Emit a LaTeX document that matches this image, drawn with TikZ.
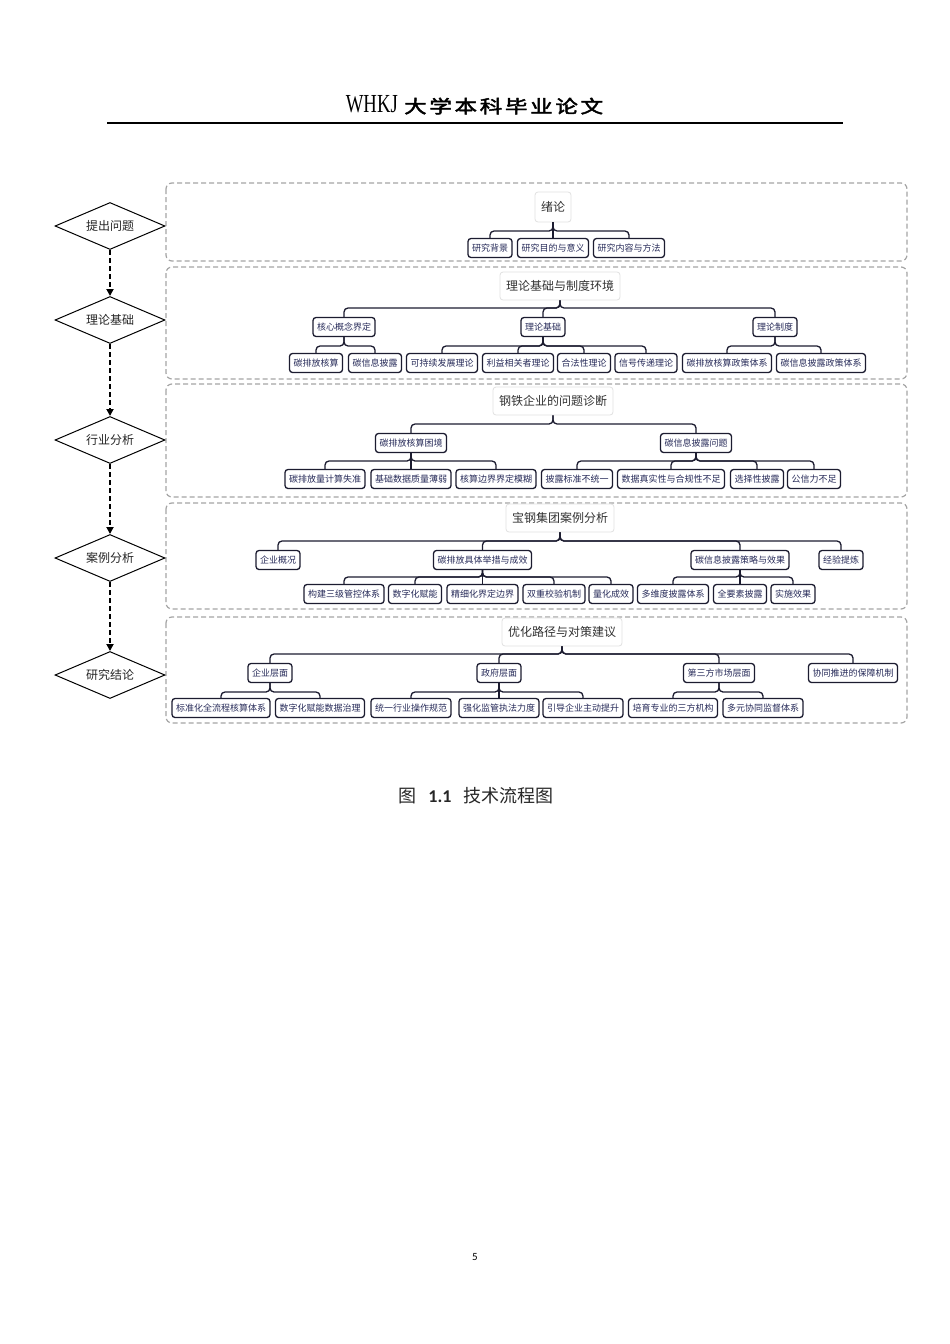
\documentclass[tikz,border=0pt]{standalone}
\usepackage{fontspec}
\usetikzlibrary{shapes.geometric,arrows.meta}
\newfontfamily\cjk{Noto Sans CJK SC}
\newfontfamily\cjkbold[FakeBold=2.2]{Noto Sans CJK SC}
\newfontfamily\hdserif{Liberation Serif}
\newfontfamily\calib{Carlito}
\definecolor{lineC}{RGB}{28,28,48}
\definecolor{txtC}{RGB}{40,44,90}
\definecolor{rootT}{RGB}{50,50,50}
\definecolor{rootB}{RGB}{225,225,225}
\definecolor{bandC}{RGB}{165,165,165}
\newcommand{\branch}[3]{\foreach \cc in {#2}{\draw[conn] (#1.south) -- (#1.south |- 0,#3) -| (\cc.north);}}
\newcommand{\straightc}[2]{\draw[conn] (#1.south) -- (#2.north);}
\tikzset{
  leaf/.style={draw=lineC, line width=1.3pt, rounded corners=3pt, fill=white, text=txtC,
    font=\cjk\fontsize{9}{9}\selectfont, inner xsep=4pt, inner ysep=0pt, minimum height=19pt},
  rootbox/.style={draw=rootB, line width=0.8pt, rounded corners=3pt, fill=white, text=rootT,
    font=\cjk\fontsize{12}{12}\selectfont, inner xsep=6pt, inner ysep=0pt, minimum height=28pt},
  conn/.style={draw=lineC, line width=1.3pt, rounded corners=4pt},
  band/.style={draw=bandC, dash pattern=on 5pt off 3pt, line width=1.2pt, rounded corners=6pt},
  dia/.style={diamond, aspect=2.34, draw=black, line width=1pt, minimum width=110pt, minimum height=47pt,
    inner sep=0pt, font=\cjk\fontsize{12}{12}\selectfont, text=black!85},
  flow/.style={draw=black, line width=2pt, dash pattern=on 5pt off 3pt,
    -{Triangle[length=7pt,width=7pt]}}
}
\begin{document}
\begin{tikzpicture}[x=1pt,y=-1pt]
\useasboundingbox (0,0) rectangle (950,1344);
\fill[white] (0,0) rectangle (950,1344);

% header
\node[anchor=base east, inner sep=0pt] (hdw) at (398,112)
  {\scalebox{0.72}[1]{\hdserif\fontsize{26}{26}\selectfont WHKJ}};
\node[anchor=base west, inner sep=0pt] (hdc) at (404,113)
  {\scalebox{1.25}[1]{\cjkbold\fontsize{18}{18}\selectfont\addfontfeature{LetterSpace=12}大学本科毕业论文}};
\draw[line width=1.5pt] (107,123) -- (843,123);

% bands
\draw[band] (166,183) rectangle (907,261);
\draw[band] (166,267) rectangle (907,379);
\draw[band] (166,384) rectangle (907,497);
\draw[band] (166,503) rectangle (907,609);
\draw[band] (166,617) rectangle (907,723);

% diamonds
\node[dia] (d1) at (110,226) {提出问题};
\node[dia] (d2) at (110,320) {理论基础};
\node[dia] (d3) at (110,440) {行业分析};
\node[dia] (d4) at (110,558) {案例分析};
\node[dia] (d5) at (110,675) {研究结论};
\draw[flow] (d1.south) -- (d2.north);
\draw[flow] (d2.south) -- (d3.north);
\draw[flow] (d3.south) -- (d4.north);
\draw[flow] (d4.south) -- (d5.north);

% band 1
\node[rootbox, minimum height=30pt] (r1) at (553,207) {绪论};
\node[leaf] (a1) at (490,248) {研究背景};
\node[leaf] (a2) at (553,248) {研究目的与意义};
\node[leaf] (a3) at (629,248) {研究内容与方法};
\branch{r1}{a1,a3}{231}
\straightc{r1}{a2}

% band 2
\node[rootbox] (r2) at (560,286) {理论基础与制度环境};
\node[leaf] (b1) at (344,327) {核心概念界定};
\node[leaf] (b2) at (543,327) {理论基础};
\node[leaf] (b3) at (775,327) {理论制度};
\branch{r2}{b1,b2,b3}{308}
\node[leaf] (b11) at (316,363) {碳排放核算};
\node[leaf] (b12) at (375,363) {碳信息披露};
\node[leaf] (b21) at (442,363) {可持续发展理论};
\node[leaf] (b22) at (518,363) {利益相关者理论};
\node[leaf] (b23) at (584,363) {合法性理论};
\node[leaf] (b24) at (646,363) {信号传递理论};
\node[leaf] (b31) at (727,363) {碳排放核算政策体系};
\node[leaf] (b32) at (821,363) {碳信息披露政策体系};
\branch{b1}{b11,b12}{346}
\branch{b2}{b21,b22,b23,b24}{346}
\branch{b3}{b31,b32}{346}

% band 3
\node[rootbox] (r3) at (553,401) {钢铁企业的问题诊断};
\node[leaf] (c1) at (411,443) {碳排放核算困境};
\node[leaf] (c2) at (696,443) {碳信息披露问题};
\branch{r3}{c1,c2}{424}
\node[leaf] (c11) at (325,479) {碳排放量计算失准};
\node[leaf] (c12) at (411,479) {基础数据质量薄弱};
\node[leaf] (c13) at (496,479) {核算边界界定模糊};
\node[leaf] (c21) at (577,479) {披露标准不统一};
\node[leaf] (c22) at (671,479) {数据真实性与合规性不足};
\node[leaf] (c23) at (757,479) {选择性披露};
\node[leaf] (c24) at (814,479) {公信力不足};
\branch{c1}{c11,c13}{461}
\straightc{c1}{c12}
\branch{c2}{c21,c22,c23,c24}{461}

% band 4
\node[rootbox] (r4) at (560,518) {宝钢集团案例分析};
\node[leaf] (e1) at (278,560) {企业概况};
\node[leaf] (e2) at (482.5,560) {碳排放具体举措与成效};
\node[leaf] (e3) at (740,560) {碳信息披露策略与效果};
\node[leaf] (e4) at (841,560) {经验提炼};
\branch{r4}{e1,e2,e3,e4}{541}
\node[leaf] (e21) at (344,594) {构建三级管控体系};
\node[leaf] (e22) at (415,594) {数字化赋能};
\node[leaf] (e23) at (482.5,594) {精细化界定边界};
\node[leaf] (e24) at (554,594) {双重校验机制};
\node[leaf] (e25) at (611,594) {量化成效};
\node[leaf] (e31) at (673,594) {多维度披露体系};
\node[leaf] (e32) at (740,594) {全要素披露};
\node[leaf] (e33) at (793,594) {实施效果};
\branch{e2}{e21,e22,e24,e25}{577}
\straightc{e2}{e23}
\branch{e3}{e31,e33}{577}
\straightc{e3}{e32}

% band 5
\node[rootbox] (r5) at (562,632) {优化路径与对策建议};
\node[leaf] (f1) at (270,673) {企业层面};
\node[leaf] (f2) at (499,673) {政府层面};
\node[leaf] (f3) at (719,673) {第三方市场层面};
\node[leaf] (f4) at (853,673) {协同推进的保障机制};
\branch{r5}{f1,f2,f3,f4}{654}
\node[leaf] (f11) at (221,708) {标准化全流程核算体系};
\node[leaf] (f12) at (320,708) {数字化赋能数据治理};
\node[leaf] (f21) at (411,708) {统一行业操作规范};
\node[leaf] (f22) at (499,708) {强化监管执法力度};
\node[leaf] (f23) at (583,708) {引导企业主动提升};
\node[leaf] (f31) at (673,708) {培育专业的三方机构};
\node[leaf] (f32) at (763,708) {多元协同监督体系};
\branch{f1}{f11,f12}{692}
\branch{f2}{f21,f23}{692}
\straightc{f2}{f22}
\branch{f3}{f31,f32}{692}

% caption
\node[inner sep=0pt, font=\cjk\fontsize{18}{18}\selectfont, text=black!85] (cap) at (476,796)
  {图\hspace{12pt}{\calib\bfseries 1.1}\hspace{12pt}技术流程图};
% page number
\node[inner sep=0pt, font=\calib\fontsize{11}{11}\selectfont] (pg) at (475,1257) {5};
\end{tikzpicture}
\end{document}
